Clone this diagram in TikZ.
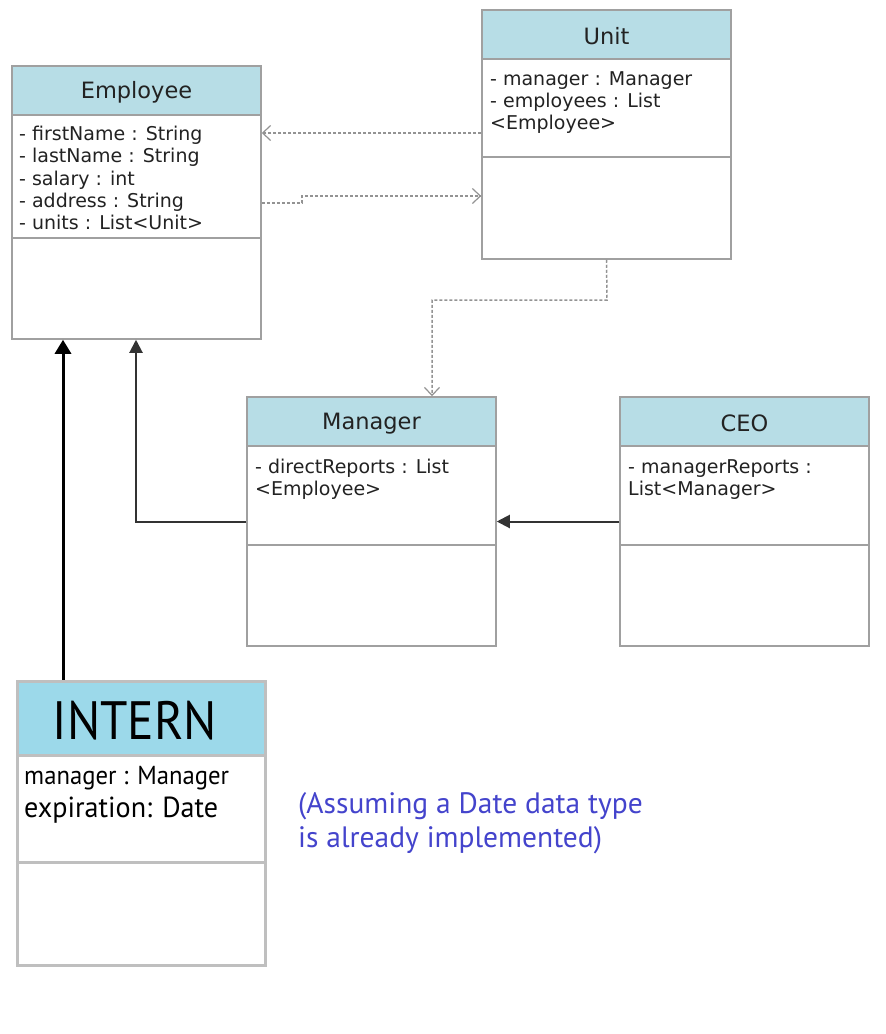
\documentclass[tikz,border=0pt]{standalone}
\usepackage{fontspec}
\setmainfont{DejaVu Sans}
\newfontfamily\din{PT Sans}
\usetikzlibrary{arrows.meta}
\definecolor{hdr}{HTML}{B7DDE6}
\definecolor{hdrb}{HTML}{9CD9EA}
\definecolor{bord}{HTML}{A0A0A0}
\definecolor{txt}{HTML}{222222}
\definecolor{note}{HTML}{4444CC}
\tikzset{
  box/.style={draw=bord, line width=1.5pt, fill=white, inner sep=0pt},
  hbox/.style={draw=bord, line width=1.5pt, fill=hdr, inner sep=0pt},
  ttl/.style={font=\fontsize{22.5}{26}\selectfont, text=txt, inner sep=0pt},
  attr/.style={font=\fontsize{19}{22.2}\selectfont, text=txt, align=left, anchor=north west, inner sep=0pt},
  dep/.style={draw=gray!85, line width=1.5pt, dash pattern=on 3pt off 2pt, -{Straight Barb[length=8pt,width=15pt,line width=1.2pt]}},
  gen/.style={draw=black!80, line width=2pt, -{Triangle[length=13pt,width=13pt]}}
}
\begin{document}
\begin{tikzpicture}[x=1pt,y=-1pt]
\useasboundingbox (0,0) rectangle (886,1034);
% Employee
\node[box, minimum width=249pt, minimum height=273pt] (emp) at (136.5,202.5) {};
\node[hbox, minimum width=249pt, minimum height=49pt] (emph) at (136.5,90.5) {};
\draw[bord, line width=1.5pt] (emp.west |- 0,238) -- (emp.east |- 0,238);
\node[ttl] (empt) at ([yshift=-2pt]emph) {Employee};
\node[attr] (empa) at (19,126) {- firstName : String\\- lastName : String\\- salary : int\\- address : String\\- units : List<Unit>};
% Unit
\node[box, minimum width=249pt, minimum height=249pt] (unit) at (606.5,134.5) {};
\node[hbox, minimum width=249pt, minimum height=49pt] (unith) at (606.5,34.5) {};
\draw[bord, line width=1.5pt] (unit.west |- 0,157) -- (unit.east |- 0,157);
\node[ttl] (unitt) at ([yshift=-2pt]unith) {Unit};
\node[attr] (unita) at (490,71) {- manager : Manager\\- employees : List\\<Employee>};
% Manager
\node[box, minimum width=249pt, minimum height=249pt] (mgr) at (371.5,521.5) {};
\node[hbox, minimum width=249pt, minimum height=49pt] (mgrh) at (371.5,421.5) {};
\draw[bord, line width=1.5pt] (mgr.west |- 0,545) -- (mgr.east |- 0,545);
\node[ttl] (mgrt) at ([yshift=-2pt]mgrh) {Manager};
\node[attr] (mgra) at (255,459) {- directReports : List\\<Employee>};
% CEO
\node[box, minimum width=249pt, minimum height=249pt] (ceo) at (744.5,521.5) {};
\node[hbox, minimum width=249pt, minimum height=49pt] (ceoh) at (744.5,421.5) {};
\draw[bord, line width=1.5pt] (ceo.west |- 0,545) -- (ceo.east |- 0,545);
\node[ttl] (ceot) at ([yshift=-2pt]ceoh) {CEO};
\node[attr] (ceoa) at (628,459) {- managerReports :\\List<Manager>};
% INTERN
\node[draw=black!25, line width=3pt, fill=white, inner sep=0pt, minimum width=248pt, minimum height=284pt] (int) at (141,823) {};
\node[draw=black!25, line width=3pt, fill=hdrb, inner sep=0pt, minimum width=248pt, minimum height=74pt] (inth) at (141,718) {};
\draw[black!25, line width=3pt] (int.west |- 0,862) -- (int.east |- 0,862);
\node[font=\din\fontsize{54}{58}\selectfont, inner sep=0pt] (intt) at (135,721) {\scalebox{0.915}[1]{INTERN}};
\node[font=\din\fontsize{26}{33}\selectfont, anchor=north west, align=left, inner sep=0pt] (inta) at (24,766) {\scalebox{0.95}[1]{manager : Manager}\\\scalebox{0.97}[1]{\fontsize{29}{33}\selectfont expiration: Date}};
% note
\node[font=\din\fontsize{29.5}{34}\selectfont, text=note, anchor=north west, align=left, inner sep=0pt] (note) at (298,792) {(Assuming a Date data type\\is already implemented)};
% connectors
\draw[dep] (unit.west |- 0,133) -- (emp.east |- 0,133);
\draw[dep] (emp.east |- 0,203) -- (302,203) -- (302,196) -- (unit.west |- 0,196);
\draw[dep] (unit.south) -- (607,300) -- (432,300) -- (mgr.north -| 432,0);
\draw[gen] (mgr.west) -- (136,521.5) -- (emp.south -| 136,0);
\draw[gen] (ceo.west) -- (mgr.east);
\draw[black, line width=3pt, -{Triangle[length=14pt,width=16pt]}] (int.north -| 63,0) -- (emp.south -| 63,0);
\end{tikzpicture}
\end{document}
